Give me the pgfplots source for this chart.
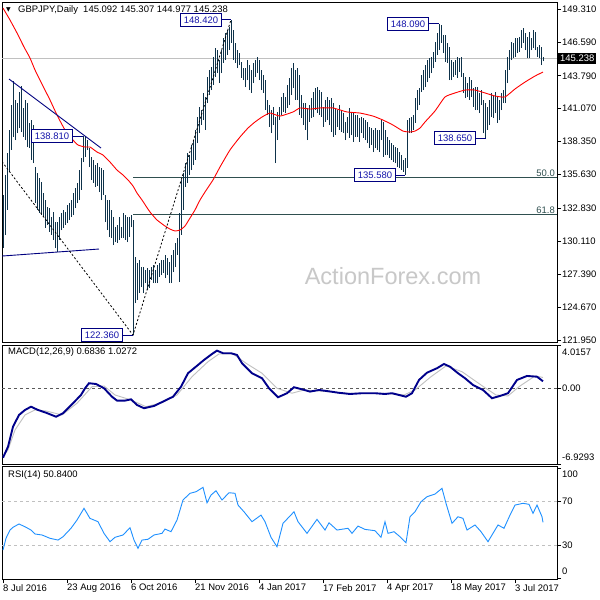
\documentclass[border=0pt]{standalone}
\usepackage{pgfplots}
\pgfplotsset{compat=1.18}
\usepackage{pgfplotstable}
\usepackage{fontspec}
\setmainfont{Liberation Sans}
\newfontfamily\symf{DejaVu Sans}
\newcommand{\lab}{\fontsize{9.5}{11}\selectfont}
\definecolor{barc}{RGB}{14,50,74}
\definecolor{navyc}{RGB}{0,0,128}
\definecolor{boxt}{RGB}{20,20,170}
\definecolor{fibc}{RGB}{47,79,79}
\definecolor{macdc}{RGB}{0,0,139}
\definecolor{sigc}{RGB}{192,192,192}
\definecolor{rsic}{RGB}{30,144,255}
\definecolor{wm}{RGB}{200,200,200}
\definecolor{zeroc}{RGB}{90,90,90}

\pgfplotstableread{
i h l
0 133.94 129.55
1 135.59 130.63
2 137.41 132.70
3 139.31 135.84
4 141.37 137.66
5 143.36 138.73
6 141.79 138.48
7 141.54 139.06
8 142.45 139.47
9 142.94 139.14
10 141.13 138.73
11 141.79 138.48
12 141.54 137.90
13 139.89 137.82
14 140.13 136.83
15 139.72 136.58
16 136.25 133.27
17 135.75 132.70
18 135.34 132.45
19 135.01 132.28
20 134.10 132.12
21 133.52 131.21
22 132.94 131.46
23 132.86 130.88
24 132.12 130.63
25 132.53 130.22
26 131.70 129.55
27 131.70 129.22
28 132.12 130.22
29 132.45 131.04
30 132.70 131.21
31 132.53 131.46
32 133.11 131.62
33 133.27 131.87
34 133.52 132.12
35 134.10 132.28
36 134.51 132.86
37 134.93 133.27
38 136.00 133.52
39 137.00 134.35
40 138.81 136.66
41 138.73 137.08
42 138.48 137.66
43 137.82 136.25
44 137.08 135.18
45 136.83 134.93
46 136.42 134.60
47 136.58 134.68
48 136.25 134.18
49 136.17 133.52
50 136.00 133.94
51 133.94 131.70
52 133.52 131.04
53 133.52 130.46
54 132.70 130.38
55 132.12 129.80
56 131.29 130.05
57 131.46 129.97
58 132.12 130.22
59 131.29 130.38
60 132.45 130.38
61 132.28 130.22
62 132.12 130.05
63 132.12 130.46
64 132.28 131.29
65 131.87 122.36
66 128.81 125.00
67 128.31 125.26
68 128.56 125.83
69 127.98 126.33
70 127.98 125.83
71 127.74 126.66
72 127.90 126.08
73 127.74 126.25
74 127.98 126.91
75 128.15 126.66
76 127.74 126.66
77 128.15 126.66
78 128.31 127.16
79 128.56 127.32
80 128.56 127.49
81 128.98 127.07
82 128.73 127.32
83 128.40 126.66
84 128.98 126.66
85 129.39 127.57
86 129.97 127.98
87 130.38 128.98
88 132.45 126.74
89 135.18 130.63
90 135.75 132.70
91 136.58 134.60
92 137.41 134.93
93 137.24 135.59
94 138.07 136.00
95 138.48 136.42
96 139.31 136.83
97 140.38 138.23
98 141.21 139.06
99 140.96 139.72
100 142.37 140.13
101 142.04 139.31
102 143.69 141.54
103 144.27 142.20
104 144.52 142.61
105 145.34 143.03
106 146.09 143.69
107 145.92 144.02
108 145.09 143.19
109 145.92 144.02
110 146.91 144.85
111 147.33 145.09
112 147.57 145.51
113 147.82 145.92
114 148.42 146.50
115 147.57 145.09
116 146.50 144.85
117 145.92 144.43
118 145.67 144.68
119 144.93 143.61
120 144.43 143.44
121 144.43 142.86
122 145.09 143.44
123 144.68 142.61
124 144.27 142.37
125 144.85 143.19
126 145.09 143.69
127 145.34 144.02
128 145.09 143.44
129 144.27 142.61
130 143.85 142.37
131 143.44 140.96
132 141.79 140.55
133 141.37 139.56
134 140.96 139.06
135 141.21 139.72
136 140.38 136.58
137 140.80 138.48
138 141.21 140.13
139 142.04 140.55
140 142.37 140.80
141 142.04 140.71
142 143.03 141.13
143 143.61 141.37
144 144.43 142.20
145 144.85 142.78
146 144.27 141.79
147 144.43 141.79
148 143.85 140.55
149 142.20 140.30
150 141.54 139.72
151 141.54 139.31
152 141.13 138.48
153 141.37 139.97
154 141.95 140.30
155 142.45 140.38
156 142.78 140.96
157 142.86 140.71
158 142.61 140.55
159 142.45 140.38
160 141.21 139.56
161 141.79 139.97
162 142.04 140.13
163 141.79 139.72
164 141.95 139.14
165 141.54 138.73
166 141.13 138.89
167 140.96 139.56
168 141.37 139.31
169 140.96 139.14
170 140.71 139.06
171 139.97 138.48
172 140.38 139.06
173 141.13 138.65
174 140.80 138.89
175 140.71 138.32
176 140.55 138.73
177 140.55 138.73
178 140.30 138.32
179 140.38 139.06
180 140.30 138.65
181 140.13 138.48
182 139.97 138.23
183 139.56 137.82
184 139.47 138.07
185 139.31 137.49
186 139.47 137.82
187 139.31 137.66
188 139.31 137.49
189 140.13 138.48
190 139.97 137.08
191 139.31 137.24
192 138.73 137.24
193 138.48 137.00
194 138.23 136.83
195 138.07 136.66
196 137.90 136.58
197 137.82 136.25
198 137.49 136.17
199 137.24 136.00
200 136.83 135.84
201 137.00 135.58
202 140.13 136.17
203 140.30 139.06
204 140.38 139.06
205 140.55 139.31
206 141.95 139.89
207 142.61 140.96
208 142.78 141.37
209 143.85 142.45
210 144.27 142.61
211 144.68 142.86
212 145.09 143.27
213 145.26 143.61
214 145.34 144.02
215 145.76 144.43
216 146.58 144.93
217 147.33 145.51
218 148.09 145.92
219 147.99 146.50
220 147.16 145.67
221 147.16 144.93
222 146.50 144.85
223 146.17 143.44
224 145.09 143.44
225 144.93 143.69
226 145.09 143.85
227 145.34 143.61
228 145.26 144.10
229 145.34 143.69
230 144.02 142.37
231 143.69 141.95
232 143.19 142.04
233 143.69 141.79
234 143.44 142.04
235 142.78 141.21
236 142.86 140.96
237 142.86 140.96
238 142.37 140.71
239 142.61 141.37
240 141.79 139.06
241 141.54 138.65
242 141.21 139.31
243 141.79 139.72
244 142.37 140.38
245 142.20 140.30
246 142.45 140.71
247 142.04 139.89
248 141.79 140.13
249 142.37 140.96
250 142.61 141.54
251 144.27 141.54
252 145.34 143.19
253 145.92 144.27
254 146.58 145.09
255 146.50 145.26
256 146.91 145.34
257 146.91 145.67
258 146.99 145.76
259 147.57 146.09
260 147.74 146.50
261 147.33 145.92
262 146.99 145.26
263 147.41 145.26
264 146.91 145.92
265 147.57 146.09
266 147.41 145.92
267 146.17 145.34
268 146.33 145.26
269 146.17 144.68
270 145.307 144.977
}\bars

\pgfplotsset{panel/.style={
  scale only axis, width=555bp, xmin=-0.5, xmax=277,
  axis line style={black, line width=0.9bp},
  ytick pos=right, yticklabel pos=right, xtick=\empty,
  tick align=outside, major tick length=4bp,
  tick style={black, line width=0.8bp},
  yticklabel style={font=\lab, anchor=west, inner xsep=1bp},
  clip mode=individual}}

\begin{document}
\begin{tikzpicture}
\useasboundingbox (0,0) rectangle (600bp,-600bp);
\fill[white] (0,0) rectangle (600bp,-600bp);

% ---------------- main price panel ----------------
\begin{axis}[panel, at={(2bp,-2bp)}, anchor=north west, height=340bp,
  ymin=121.784, ymax=149.889,
  ytick={121.95,124.67,127.39,130.11,132.83,135.63,138.35,141.07,143.79,146.59,149.31},
  yticklabels={121.950,124.670,127.390,130.110,132.830,135.630,138.350,141.070,143.790,146.590,149.310},
  extra y ticks={145.238}, extra y tick labels={145.238},
  extra y tick style={major tick length=0bp, yticklabel style={fill=black, text=white, inner xsep=2bp, inner ysep=2bp, xshift=1bp}}]
\addplot[sigc, line width=0.9bp] coordinates {(-0.5,145.238) (277,145.238)};
\addplot[fibc, line width=0.9bp] coordinates {(65,135.39) (277,135.39)};
\addplot[fibc, line width=0.9bp] coordinates {(65,132.31) (277,132.31)};
\addplot[barc, line width=0.85bp, mark=none, quiver={u=0, v=\thisrow{h}-\thisrow{l}}] table[x=i, y=l] {\bars};
% moving average
\addplot[red, line width=0.9bp, smooth, tension=0.3] coordinates {
(0,149.39) (3.5,148.40) (7,147.33) (10.5,146.17) (13.5,145.26) (16,144.27) (18.5,143.44) (21,142.61)
(23.5,141.79) (27,140.55) (31,139.31) (35,138.48) (37.5,138.07) (41,137.90) (43.5,137.90) (47,137.49)
(50,137.24) (53.5,136.66) (57,136.00) (60,135.59) (62.5,135.18) (65,134.68) (67,134.10) (69.5,133.52)
(73.5,132.53) (77,131.87) (81,131.37) (83.5,131.12) (86,130.96) (88.5,131.04) (91,131.37) (93.5,132.03)
(96,132.70) (98.5,133.52) (101,134.18) (105,135.18) (108.5,136.25) (113.5,137.66) (118.5,138.73)
(122.5,139.47) (126,139.97) (129.5,140.38) (133.5,140.71) (138.5,140.46) (145,140.80) (148.5,141.13)
(153.5,141.04) (158.5,141.13) (165,141.13) (172,140.80) (178.5,140.71) (185,140.46) (190,140.13)
(195,139.72) (200,139.22) (203.5,139.14) (206,139.22) (208.5,139.47) (211,139.97) (216,140.88)
(221,142.04) (226,142.37) (231,142.61) (236,142.61) (241,142.37) (246,142.12) (251,142.04)
(256,142.70) (261,143.27) (266,143.77) (270,144.10)};
% trendlines
\addplot[navyc, line width=0.9bp] coordinates {(3,143.52) (49,137.82)};
\addplot[navyc, line width=0.9bp] coordinates {(-0.5,128.89) (48,129.47)};
\addplot[black, line width=0.8bp, dash pattern=on 2bp off 2bp] coordinates {(-0.5,136.69) (65,122.36) (114,148.42)};
% label connectors
\addplot[navyc, line width=0.9bp] coordinates {(109.5,148.42) (114,148.42)};
\addplot[navyc, line width=0.9bp] coordinates {(213,148.09) (218,148.09)};
\addplot[navyc, line width=0.9bp] coordinates {(35,138.81) (40,138.81)};
\addplot[navyc, line width=0.9bp] coordinates {(60,122.36) (65,122.36)};
\addplot[navyc, line width=0.9bp] coordinates {(196.5,135.58) (201,135.58)};
\addplot[navyc, line width=0.9bp] coordinates {(236.5,138.65) (241.5,138.65)};
\tikzset{pl/.style={draw=navyc, fill=white, text=boxt, font=\lab, inner xsep=3.5bp, inner ysep=3bp, anchor=east, line width=0.9bp}}
\node[pl] at (axis cs:109.5,148.42) {148.420};
\node[pl] at (axis cs:213,148.09) {148.090};
\node[pl] at (axis cs:35,138.81) {138.810};
\node[pl] at (axis cs:60,122.36) {122.360};
\node[pl] at (axis cs:196.5,135.58) {135.580};
\node[pl] at (axis cs:236.5,138.65) {138.650};
\node[anchor=south east, text=fibc, font=\lab, inner sep=1bp] at (axis cs:276.5,135.39) {50.0};
\node[anchor=south east, text=fibc, font=\lab, inner sep=1bp] at (axis cs:276.5,132.31) {61.8};
\end{axis}

% ---------------- MACD panel ----------------
\begin{axis}[panel, at={(2bp,-345bp)}, anchor=north west, height=119bp,
  ymin=-6.9293, ymax=4.0157,
  ytick={-6.9293,0,4.0157}, yticklabels={{},0.00,{}}]
\addplot[zeroc, line width=0.8bp, dash pattern=on 3bp off 3bp] coordinates {(-0.5,0) (277,0)};
\addplot[sigc, line width=0.9bp] coordinates {
(0,-6.2) (2.5,-5.64) (6,-3.8) (11,-2.42) (16,-1.96) (21.5,-2.05) (29.5,-2.42) (37,-1.34) (44.5,0.18)
(50.5,0.25) (56,-0.58) (64,-1.04) (71.5,-1.66) (79.5,-1.29) (87,-0.58) (94.5,1.10) (102.5,2.48)
(108,3.19) (115,3.19) (121.5,2.34) (129.5,1.42) (137,0.04) (144.5,-0.42) (150.5,-0.12) (158,-0.21)
(171.5,-0.42) (191,-0.42) (200.5,-0.58) (206,-0.12) (214,1.10) (221.5,2.09) (229.5,1.56) (239,0.34)
(246.5,-0.58) (252.5,-0.67) (258,0.18) (266,1.17) (270,1.03)};
\addplot[macdc, line width=1.9bp] coordinates {
(0,-6.35) (2.5,-5.34) (5,-3.50) (8,-2.42) (11,-1.96) (14,-1.66) (17.5,-1.96) (21.5,-2.21) (26.5,-2.58)
(30,-2.26) (35,-1.34) (39,-0.58) (41,0.03) (43,0.50) (46.5,0.43) (50.5,0.04) (54.5,-0.74) (57,-1.10)
(61,-1.10) (64,-0.98) (67,-1.50) (70.5,-1.80) (75.5,-1.59) (81,-1.10) (85,-0.74) (89,0.18) (92.5,1.42)
(97.5,2.18) (100.5,2.64) (104.5,3.19) (107,3.50) (110,3.26) (114,3.26) (117,3.10) (119.5,2.34)
(124.5,1.42) (129.5,0.96) (133,0.04) (137.5,-0.79) (142,-0.42) (145.5,0.13) (149.5,-0.06) (153.5,-0.27)
(158,-0.12) (164,-0.27) (167.5,-0.37) (173.5,-0.49) (179.5,-0.42) (186,-0.42) (191,-0.49) (194.5,-0.42)
(201.5,-0.74) (204.5,-0.42) (208,0.80) (212,1.47) (217,1.88) (220.5,2.27) (223.5,2.02) (227.5,1.42)
(231,0.96) (235,0.34) (240,-0.12) (244.5,-0.88) (248.5,-0.67) (252.5,-0.42) (257,0.80) (262,1.17)
(267,1.10) (270,0.68)};
\end{axis}

% ---------------- RSI panel ----------------
\begin{axis}[panel, at={(2bp,-466bp)}, anchor=north west, height=113bp,
  ymin=-0.6, ymax=102.1,
  ytick={0,30,70,100}, yticklabels={{},30,70,{}},
  xtick={0,32,64,96,128,160,192,224,256},
  xticklabels={8 Jul 2016,23 Aug 2016,6 Oct 2016,21 Nov 2016,4 Jan 2017,17 Feb 2017,4 Apr 2017,18 May 2017,3 Jul 2017},
  xtick pos=bottom,
  xticklabel style={font=\lab, anchor=north west, inner xsep=0bp, inner ysep=1bp}]
\addplot[sigc, line width=0.8bp, dash pattern=on 3bp off 3bp] coordinates {(-0.5,30) (277,30)};
\addplot[sigc, line width=0.8bp, dash pattern=on 3bp off 3bp] coordinates {(-0.5,70) (277,70)};
\addplot[rsic, line width=0.9bp] coordinates {
(0,25.7) (1.5,36.4) (3.5,43.9) (5,46.4) (8,49.4) (11,46.9) (14,43.9) (16,40.3) (19.5,39.4) (23.5,36.4)
(27.5,34.8) (30,37.8) (34,45.5) (37,53.0) (40.5,63.6) (43.5,54.5) (47.5,51.5) (50.5,40.9) (53.5,33.3)
(56,37.3) (60,39.4) (63.5,46.0) (65.5,34.8) (67.5,27.3) (69.5,34.8) (72.5,35.5) (75.5,39.4) (79.5,40.9)
(81,44.8) (84,42.4) (87,53.0) (90,71.2) (93.5,77.3) (96.5,78.7) (100,82.7) (102,68.7) (104,75.7)
(106.5,79.6) (109.5,71.2) (113,77.8) (116,77.3) (117.5,66.6) (120.5,60.5) (124.5,51.5) (129,57.5)
(131,51.5) (134,37.3) (137,28.7) (140,50.0) (145.5,60.5) (147.5,51.5) (152,40.9) (157,53.6) (161,43.9)
(163,50.5) (167,43.9) (172.5,45.5) (174.5,40.9) (177.5,47.5) (181,44.5) (186,43.3) (189,37.3) (191,51.5)
(192.5,40.9) (195.5,42.4) (198.5,37.8) (201.5,32.4) (203.5,56.0) (206,60.5) (209,69.6) (212,74.2)
(216,76.6) (219.5,81.8) (221.5,68.2) (224.5,50.0) (227.5,56.0) (230,54.5) (232,43.9) (236,48.5)
(239,42.4) (242.5,33.3) (244.5,39.4) (247.5,48.5) (250.5,45.5) (253.5,57.5) (256,66.6) (260,68.2)
(263,67.3) (265,59.1) (267,66.6) (269.5,56.0) (270,50.84)};
\end{axis}

% ---------------- texts ----------------
\node[anchor=center, inner sep=0pt, font=\symf\fontsize{6}{7}\selectfont] at (8.5bp,-10bp) {▼};
\node[anchor=west, inner sep=0pt, font=\lab] at (18bp,-10bp) {GBPJPY,Daily\ \ 145.092 145.307 144.977 145.238};
\node[anchor=west, inner sep=0pt, font=\lab] at (8bp,-352bp) {MACD(12,26,9) 0.6836 1.0272};
\node[anchor=west, inner sep=0pt, font=\lab] at (8bp,-475bp) {RSI(14) 50.8400};
\node[anchor=west, inner sep=0pt, font=\lab] at (562bp,-352bp) {4.0157};
\node[anchor=west, inner sep=0pt, font=\lab] at (562bp,-457bp) {-6.9293};
\node[anchor=west, inner sep=0pt, font=\lab] at (562bp,-474bp) {100};
\node[anchor=west, inner sep=0pt, font=\lab] at (562bp,-571bp) {0};
\node[anchor=center, inner sep=0pt, text=wm, font=\fontsize{23.6}{26}\selectfont] at (393bp,-276bp) {ActionForex.com};
\end{tikzpicture}
\end{document}
